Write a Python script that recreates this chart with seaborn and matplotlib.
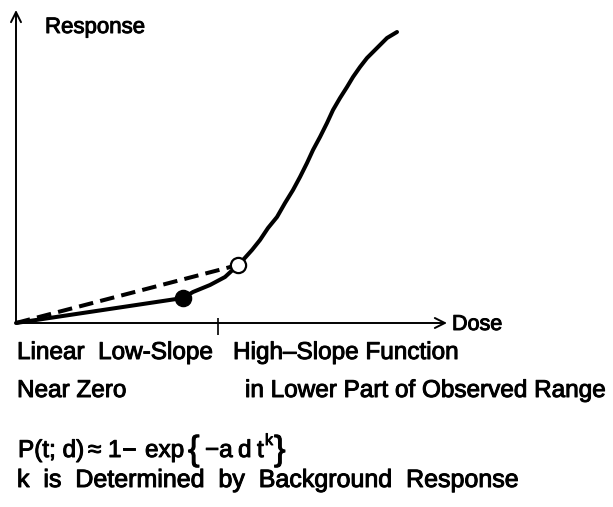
import numpy as np
import pandas as pd
import matplotlib
matplotlib.use("Agg")
import matplotlib.pyplot as plt
import matplotlib.patheffects as pe
import seaborn as sns

# curve (dose, response in arbitrary units)
dose = [0.0, 1.67, 1.77, 1.94, 2.09, 2.22, 2.27, 2.36, 2.44, 2.52, 2.61, 2.69, 2.77, 2.84,
        2.91, 2.97, 3.04, 3.11, 3.17, 3.24, 3.31, 3.37, 3.44, 3.51, 3.57, 3.64, 3.71, 3.76, 3.81]
response = [0.0, 0.25, 0.31, 0.38, 0.46, 0.58, 0.63, 0.73, 0.83, 0.95, 1.06, 1.20, 1.33, 1.46,
            1.60, 1.73, 1.86, 2.00, 2.13, 2.25, 2.36, 2.46, 2.56, 2.65, 2.71, 2.78, 2.85, 2.88, 2.91]

# linear extrapolation from zero to the lowest observed point
linear_dose = [0.0, 2.22]
linear_resp = [0.0, 0.58]

# marked points
filled_pt = (1.67, 0.25)
open_pt = (2.22, 0.58)

# boundary between the two regimes
boundary = 2.02

x_max, y_max = 4.31, 3.13

sns.set_theme(style="white")
plt.rcParams['font.family'] = ['Liberation Sans', 'DejaVu Sans']

W, H = 613, 507
fig = plt.figure(figsize=(W / 100, H / 100), dpi=100)
ax = fig.add_axes([16 / W, (H - 323) / H, (447 - 16) / W, (323 - 10) / H])
ax.set_xlim(0, x_max)
ax.set_ylim(0, y_max)
ax.axis('off')

df = pd.DataFrame({'dose': dose, 'response': response})
sns.lineplot(data=df, x='dose', y='response', sort=False, color='black', lw=2.9,
             solid_joinstyle='round', solid_capstyle='round',
             ax=ax, clip_on=False, zorder=3)
sns.lineplot(x=linear_dose, y=linear_resp, color='black', lw=2.9, linestyle=(0, (3.6, 1.8)),
             ax=ax, clip_on=False, zorder=3)

ax.scatter([filled_pt[0]], [filled_pt[1]], s=135, color='black', zorder=5, clip_on=False)
ax.scatter([open_pt[0]], [open_pt[1]], s=120, facecolor='white', edgecolor='black',
           linewidth=1.6, zorder=5, clip_on=False)

# axes with arrow heads
arrow = dict(arrowstyle='->', lw=1.4, color='black', shrinkA=0, shrinkB=0, mutation_scale=18)
ax.annotate('', xy=(x_max, 0), xytext=(0, 0), arrowprops=arrow, annotation_clip=False)
ax.annotate('', xy=(0, y_max), xytext=(0, 0), arrowprops=arrow, annotation_clip=False)
ax.vlines(boundary, -0.12, 0.05, color='black', lw=1.2, clip_on=False)

bold = [pe.withStroke(linewidth=0.7, foreground='black')]


def put(x, y, s, size=17.5):
    fig.text(x / W, 1 - y / H, s, fontsize=size, va='baseline', ha='left', color='black',
             path_effects=bold)


put(45, 33, 'Response', 16)
put(452, 330, 'Dose', 15.5)
put(17, 359, 'Linear  Low-Slope')
put(233, 359, 'High–Slope Function')
put(17, 397, 'Near Zero')
put(245, 397, 'in Lower Part of Observed Range')

# formula, set piece by piece
for x, s in [(18, 'P(t; d)'), (88, '≈'), (108, '1'), (122, '−'), (145, 'exp'),
             (205, '−a'), (238, 'd'), (257, 't')]:
    put(x, 457, s, 17.5)
put(188, 460, '{', 25)
put(265, 445, 'k', 11.5)
put(274, 460, '}', 25)

put(17, 487, 'k  is  Determined  by  Background  Response', 18)

plt.savefig('out.png', dpi=100)
